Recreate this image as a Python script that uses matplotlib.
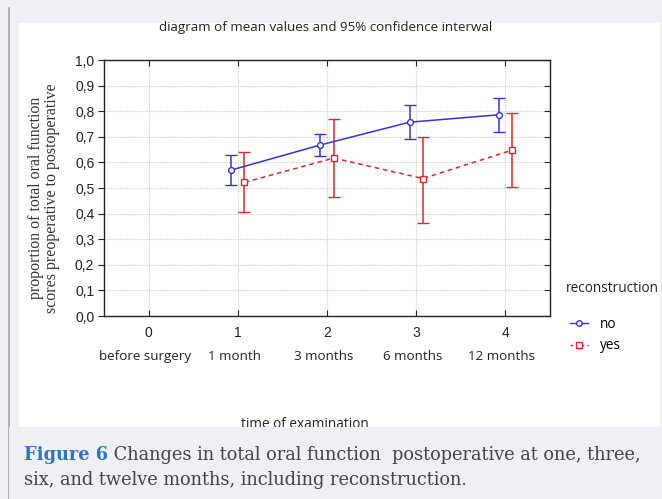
import matplotlib
matplotlib.use("Agg")
import matplotlib.pyplot as plt
import numpy as np
from matplotlib.patches import Rectangle
from matplotlib.lines import Line2D
from matplotlib.text import Annotation
import matplotlib.transforms as mtransforms

# ---- data ----
time_pos = [0, 1, 2, 3, 4]
time_names = ['before surgery', '1 month', '3 months', '6 months', '12 months']
meas_pos = np.array([1, 2, 3, 4])

no_mean = [0.570, 0.668, 0.757, 0.786]
no_low  = [0.510, 0.625, 0.690, 0.720]
no_high = [0.630, 0.710, 0.825, 0.850]

yes_mean = [0.522, 0.617, 0.537, 0.648]
yes_low  = [0.405, 0.465, 0.365, 0.505]
yes_high = [0.640, 0.770, 0.700, 0.792]

yticks = np.arange(0, 1.01, 0.1)

W, H = 662, 499
bg = '#eef0f6'
fig = plt.figure(figsize=(W/100, H/100), dpi=100, facecolor=bg)

def fx(px): return px / W
def fy(py): return 1 - py / H

# white panel + left border
fig.patches.append(Rectangle((fx(19), fy(427)), fx(660-19), (427-23)/H,
                             transform=fig.transFigure, facecolor='white',
                             edgecolor='none', zorder=0))
fig.lines.append(Line2D([fx(8.5), fx(8.5)], [fy(8), 0], transform=fig.transFigure,
                        color='#a0a0a8', lw=1.2, zorder=1))

ax = fig.add_axes([fx(104), fy(316), fx(550-104), (316-60)/H])
ax.set_facecolor('white')
ax.set_zorder(2)

blue = '#3434d8'
red = '#e02828'
off = 0.075

ax.errorbar(meas_pos - off, no_mean,
            yerr=[np.subtract(no_mean, no_low), np.subtract(no_high, no_mean)],
            color=blue, lw=1.1, elinewidth=1.1, capsize=4, capthick=1.1,
            marker='o', ms=4.2, mfc='white', mec=blue, mew=1.0, zorder=4)
ax.errorbar(meas_pos + off, yes_mean,
            yerr=[np.subtract(yes_mean, yes_low), np.subtract(yes_high, yes_mean)],
            color=red, lw=1.1, ls=(0, (3, 2.5)), elinewidth=1.1, capsize=4, capthick=1.1,
            marker='s', ms=4.6, mfc='white', mec=red, mew=1.0, zorder=4)

ax.set_xlim(-0.5, 4.5)
ax.set_ylim(0, 1.0)
ax.set_xticks(time_pos)
ax.set_xticklabels([str(t) for t in time_pos], fontfamily='Liberation Sans', fontsize=10)
ax.set_yticks(yticks)
ax.set_yticklabels([f'{v:.1f}'.replace('.', ',') for v in yticks],
                   fontfamily='Liberation Sans', fontsize=10, color='#222222')
ax.grid(True, color='#cfcfcf', lw=0.8, ls=(0, (1, 1)))
ax.set_axisbelow(True)
ax.tick_params(axis='x', direction='in', top=True, length=4, pad=7, colors='#222222')
ax.tick_params(axis='y', direction='out', length=4, pad=3, colors='#222222', right=True)
for sp in ax.spines.values():
    sp.set_color('#222222')
    sp.set_linewidth(1.0)

# right-side ticks inward
for t in ax.yaxis.get_major_ticks():
    t.tick2line.set_marker(matplotlib.lines.TICKLEFT)

# category names under the numeric ticks
trans = mtransforms.blended_transform_factory(ax.transData, ax.transAxes)
for p, name in zip(time_pos, time_names):
    ax.text(p - 0.04, -0.16, name, transform=trans, ha='center', va='center',
            fontfamily='Open Sans', fontsize=9.6, color='#222222')

# title and axis labels
fig.text(fx(326), fy(28), 'diagram of mean values and 95% confidence interwal',
         ha='center', va='center', fontfamily='Open Sans', fontsize=9.6, color='#222222')
fig.text(fx(44), fy(198), 'proportion of total oral function\nscores preoperative to postoperative',
         ha='center', va='center', rotation=90, fontfamily='Liberation Serif',
         fontsize=11.4, color='#333333', linespacing=1.0)
fig.text(fx(305), fy(424), 'time of examination', ha='center', va='center',
         fontfamily='Open Sans', fontsize=9.8, color='#222222', zorder=1)

# legend
fig.text(fx(566), fy(288), 'reconstruction', ha='left', va='center',
         fontfamily='Open Sans', fontsize=9.8, color='#222222')
handles = [Line2D([0], [0], color=blue, lw=1.0, marker='o', ms=4, mfc='white', mec=blue),
           Line2D([0], [0], color=red, lw=1.0, ls=(0, (2, 2)), marker='s', ms=4.5,
                  mfc='white', mec=red)]
fig.legend(handles, ['no', 'yes'], loc='upper left', bbox_to_anchor=(fx(558), fy(305)),
           frameon=False, handlelength=1.3, handletextpad=0.9, labelspacing=0.45,
           prop={'family': 'Open Sans', 'size': 9.8})

# cover the bottom of the panel (crops the x label like the reference)
fig.patches.append(Rectangle((fx(9.2), 0), 1, fy(427), transform=fig.transFigure,
                             facecolor=bg, edgecolor='none', zorder=3))

# caption
cap = fig.text(fx(24), fy(455), 'Figure 6', ha='left', va='center',
               fontfamily='DejaVu Serif', fontweight='bold', fontsize=12.8,
               color='#2e74c0', zorder=4)
rest = Annotation(' Changes in total oral function  postoperative at one, three,',
                  xy=(1, 0.5), xycoords=cap, ha='left', va='center',
                  fontfamily='DejaVu Serif', fontsize=12.8, color='#444444',
                  annotation_clip=False)
rest.set_zorder(4)
fig.add_artist(rest)
fig.text(fx(24), fy(480), 'six, and twelve months, including reconstruction.',
         ha='left', va='center', fontfamily='DejaVu Serif', fontsize=12.8,
         color='#444444', zorder=4)

fig.savefig('out.png', dpi=100, facecolor=fig.get_facecolor())
